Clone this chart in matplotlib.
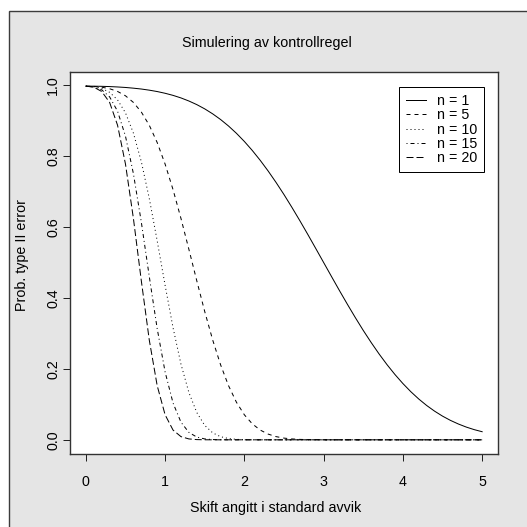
import matplotlib
matplotlib.use('Agg')
import matplotlib.pyplot as plt
import matplotlib.patches as patches

plt.rcParams['font.family'] = ['Liberation Sans', 'DejaVu Sans']

# skift i standardavvik
shift = [0.0, 0.1, 0.2, 0.3, 0.4, 0.5, 0.6, 0.7, 0.8, 0.9,
         1.0, 1.1, 1.2, 1.3, 1.4, 1.5, 1.6, 1.7, 1.8, 1.9,
         2.0, 2.1, 2.2, 2.3, 2.4, 2.5, 2.6, 2.7, 2.8, 2.9,
         3.0, 3.1, 3.2, 3.3, 3.4, 3.5, 3.6, 3.7, 3.8, 3.9,
         4.0, 4.1, 4.2, 4.3, 4.4, 4.5, 4.6, 4.7, 4.8, 4.9,
         5.0]

beta_n1 = [0.9973, 0.9972, 0.9968, 0.9961, 0.9950, 0.9936, 0.9916, 0.9892, 0.9860, 0.9821,
           0.9772, 0.9713, 0.9641, 0.9554, 0.9452, 0.9332, 0.9192, 0.9032, 0.8849, 0.8643,
           0.8413, 0.8159, 0.7881, 0.7580, 0.7257, 0.6915, 0.6554, 0.6179, 0.5793, 0.5398,
           0.5000, 0.4602, 0.4207, 0.3821, 0.3446, 0.3085, 0.2743, 0.2420, 0.2119, 0.1841,
           0.1587, 0.1357, 0.1151, 0.0968, 0.0808, 0.0668, 0.0548, 0.0446, 0.0359, 0.0287,
           0.0228]

beta_n5 = [0.9973, 0.9966, 0.9944, 0.9900, 0.9824, 0.9701, 0.9514, 0.9243, 0.8871, 0.8383,
           0.7775, 0.7055, 0.6243, 0.5371, 0.4481, 0.3616, 0.2817, 0.2115, 0.1527, 0.1059,
           0.0705, 0.0450, 0.0275, 0.0161, 0.0090, 0.0048, 0.0025, 0.0012, 0.0006, 0.0003,
           0.0001, 0.0, 0.0, 0.0, 0.0, 0.0, 0.0, 0.0, 0.0, 0.0,
           0.0, 0.0, 0.0, 0.0, 0.0, 0.0, 0.0, 0.0, 0.0, 0.0,
           0.0]

beta_n10 = [0.9973, 0.9959, 0.9909, 0.9799, 0.9586, 0.9220, 0.8649, 0.7842, 0.6809, 0.5612,
            0.4355, 0.3162, 0.2134, 0.1333, 0.0768, 0.0406, 0.0197, 0.0088, 0.0036, 0.0013,
            0.0004, 0.0001, 0.0, 0.0, 0.0, 0.0, 0.0, 0.0, 0.0, 0.0,
            0.0, 0.0, 0.0, 0.0, 0.0, 0.0, 0.0, 0.0, 0.0, 0.0,
            0.0, 0.0, 0.0, 0.0, 0.0, 0.0, 0.0, 0.0, 0.0, 0.0,
            0.0]

beta_n15 = [0.9973, 0.9952, 0.9869, 0.9670, 0.9266, 0.8562, 0.7505, 0.6137, 0.4608, 0.3136,
            0.1913, 0.1038, 0.0497, 0.0209, 0.0077, 0.0025, 0.0007, 0.0002, 0.0, 0.0,
            0.0, 0.0, 0.0, 0.0, 0.0, 0.0, 0.0, 0.0, 0.0, 0.0,
            0.0, 0.0, 0.0, 0.0, 0.0, 0.0, 0.0, 0.0, 0.0, 0.0,
            0.0, 0.0, 0.0, 0.0, 0.0, 0.0, 0.0, 0.0, 0.0, 0.0,
            0.0]

beta_n20 = [0.9973, 0.9944, 0.9823, 0.9514, 0.8871, 0.7775, 0.6243, 0.4481, 0.2817, 0.1527,
            0.0705, 0.0275, 0.0090, 0.0025, 0.0006, 0.0001, 0.0, 0.0, 0.0, 0.0,
            0.0, 0.0, 0.0, 0.0, 0.0, 0.0, 0.0, 0.0, 0.0, 0.0,
            0.0, 0.0, 0.0, 0.0, 0.0, 0.0, 0.0, 0.0, 0.0, 0.0,
            0.0, 0.0, 0.0, 0.0, 0.0, 0.0, 0.0, 0.0, 0.0, 0.0,
            0.0]

labels = ['n = 1', 'n = 5', 'n = 10', 'n = 15', 'n = 20']

W = 527.0
fs = 10.3
fig = plt.figure(figsize=(5.27, 5.27), dpi=100, facecolor='white')

# grå bakgrunn med ramme (som i R-vinduet)
fig.patches.append(patches.Rectangle((9 / W, -0.1), 1.2, 1 - 11 / W + 0.1,
                                     transform=fig.transFigure, facecolor='#e5e5e5',
                                     edgecolor='#3c3c3c', lw=1.0, zorder=-10))

ax = fig.add_axes([70 / W, 1 - 454 / W, 428 / W, 382 / W])
ax.set_facecolor('white')

styles = ['-', (0, (4, 4)), (0, (1, 3)), (0, (1, 3, 4, 3)), (0, (7, 3))]
series = [beta_n1, beta_n5, beta_n10, beta_n15, beta_n20]
for vals, ls, lab in zip(series, styles, labels):
    ax.plot(shift, vals, color='black', lw=0.72, linestyle=ls, label=lab)

ax.set_xlim(-0.2, 5.2)
ax.set_ylim(-0.04, 1.0372)
ax.set_xticks([0, 1, 2, 3, 4, 5])
ax.set_yticks([0.0, 0.2, 0.4, 0.6, 0.8, 1.0])
ax.set_xticklabels(['0', '1', '2', '3', '4', '5'])
ax.set_yticklabels(['0.0', '0.2', '0.4', '0.6', '0.8', '1.0'], rotation=90, va='center')
ax.tick_params(length=5, width=0.72, labelsize=fs, color='#222222')
ax.tick_params(axis='x', pad=10)
ax.tick_params(axis='y', pad=2)
for s in ax.spines.values():
    s.set_linewidth(1.0)
    s.set_color('#333333')

fig.text(267 / W, 1 - 43 / W, 'Simulering av kontrollregel', ha='center', va='center', fontsize=fs)
fig.text(276 / W, 1 - 508 / W, 'Skift angitt i standard avvik', ha='center', va='center', fontsize=fs)
fig.text(22.5 / W, 1 - 255 / W, 'Prob. type II error', ha='center', va='center', rotation=90, fontsize=fs)

leg = ax.legend(loc='upper left', bbox_to_anchor=(399 / W, 1 - 87 / W),
                bbox_transform=fig.transFigure, borderaxespad=0, fancybox=False,
                edgecolor='black', framealpha=1, fontsize=fs, handlelength=1.4,
                handletextpad=0.75, labelspacing=0.02, borderpad=0.5)
leg.get_frame().set_linewidth(0.72)

fig.savefig('out.png', dpi=100, facecolor='white')
